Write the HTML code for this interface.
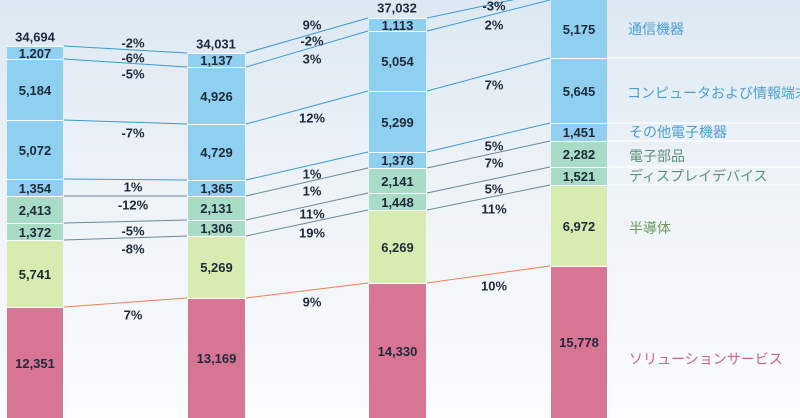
<!DOCTYPE html>
<html><head><meta charset="utf-8"><style>
body{margin:0}
#c{position:relative;width:800px;height:418px;overflow:hidden;background:linear-gradient(#dde8f2 0%,#eef3f8 45%,#fbfcfd 100%);font-family:"Liberation Sans Narrow","Liberation Sans","Noto Sans CJK JP",sans-serif}
.s{position:absolute;box-sizing:border-box;border-top:1px solid #fff;display:flex;align-items:center;justify-content:center;font-weight:bold;font-size:13px;color:#1e2a3a}
.b{background:#8fd0f0}.g{background:#a9dcc6}.y{background:#d8ebb0}.p{background:#d87594}
.t{position:absolute;font-weight:bold;font-size:13px;color:#1e2a3a;transform:translate(-50%,-50%);white-space:nowrap}
.l{position:absolute;font-size:14px;font-family:"Liberation Sans","Noto Sans CJK JP",sans-serif;transform:translateY(-50%);white-space:nowrap}
svg{position:absolute;left:0;top:0}
</style></head><body><div id="c">
<svg width="800" height="418">
<g stroke="#fff" stroke-width="1.2"><line x1="607" y1="58" x2="800" y2="58"/><line x1="607" y1="123" x2="800" y2="123"/><line x1="607" y1="141" x2="800" y2="141"/><line x1="607" y1="167" x2="800" y2="167"/><line x1="607" y1="185" x2="800" y2="185"/></g>
<g stroke="#3b9bd0" stroke-width="1">
<line x1="64" y1="46" x2="187" y2="53"/><line x1="64" y1="59" x2="187" y2="67"/><line x1="64" y1="120" x2="187" y2="124"/><line x1="64" y1="179" x2="187" y2="180"/>
<line x1="246" y1="53" x2="368" y2="18"/><line x1="246" y1="67" x2="368" y2="31"/><line x1="246" y1="124" x2="368" y2="91"/><line x1="246" y1="180" x2="368" y2="152"/>
<line x1="427" y1="18" x2="550" y2="-8"/><line x1="427" y1="31" x2="550" y2="0"/><line x1="427" y1="91" x2="550" y2="58"/><line x1="427" y1="152" x2="550" y2="123"/>
</g>
<g stroke="#6a8a98" stroke-width="1">
<line x1="64" y1="196" x2="187" y2="196"/><line x1="64" y1="223" x2="187" y2="220"/><line x1="64" y1="240" x2="187" y2="236"/>
<line x1="246" y1="196" x2="368" y2="168"/><line x1="246" y1="220" x2="368" y2="193"/><line x1="246" y1="236" x2="368" y2="210"/>
<line x1="427" y1="168" x2="550" y2="141"/><line x1="427" y1="193" x2="550" y2="167"/><line x1="427" y1="210" x2="550" y2="185"/>
</g>
<g stroke="#f08050" stroke-width="1"><line x1="64" y1="307" x2="187" y2="298"/><line x1="246" y1="298" x2="368" y2="283"/><line x1="427" y1="283" x2="550" y2="266"/></g>
</svg>
<div class="s b" style="left:7px;width:56px;top:46px;height:13px">1,207</div>
<div class="s b" style="left:7px;width:56px;top:59px;height:61px">5,184</div>
<div class="s b" style="left:7px;width:56px;top:120px;height:59px">5,072</div>
<div class="s b" style="left:7px;width:56px;top:179px;height:17px">1,354</div>
<div class="s g" style="left:7px;width:56px;top:196px;height:27px">2,413</div>
<div class="s g" style="left:7px;width:56px;top:223px;height:17px">1,372</div>
<div class="s y" style="left:7px;width:56px;top:240px;height:67px">5,741</div>
<div class="s p" style="left:7px;width:56px;top:307px;height:111px">12,351</div>
<div class="s b" style="left:188px;width:57px;top:53px;height:14px">1,137</div>
<div class="s b" style="left:188px;width:57px;top:67px;height:57px">4,926</div>
<div class="s b" style="left:188px;width:57px;top:124px;height:56px">4,729</div>
<div class="s b" style="left:188px;width:57px;top:180px;height:16px">1,365</div>
<div class="s g" style="left:188px;width:57px;top:196px;height:24px">2,131</div>
<div class="s g" style="left:188px;width:57px;top:220px;height:16px">1,306</div>
<div class="s y" style="left:188px;width:57px;top:236px;height:62px">5,269</div>
<div class="s p" style="left:188px;width:57px;top:298px;height:120px">13,169</div>
<div class="s b" style="left:369px;width:57px;top:18px;height:13px">1,113</div>
<div class="s b" style="left:369px;width:57px;top:31px;height:60px">5,054</div>
<div class="s b" style="left:369px;width:57px;top:91px;height:61px">5,299</div>
<div class="s b" style="left:369px;width:57px;top:152px;height:16px">1,378</div>
<div class="s g" style="left:369px;width:57px;top:168px;height:25px">2,141</div>
<div class="s g" style="left:369px;width:57px;top:193px;height:17px">1,448</div>
<div class="s y" style="left:369px;width:57px;top:210px;height:73px">6,269</div>
<div class="s p" style="left:369px;width:57px;top:283px;height:135px">14,330</div>
<div class="s b" style="left:551px;width:56px;top:-1px;height:59px">5,175</div>
<div class="s b" style="left:551px;width:56px;top:58px;height:65px">5,645</div>
<div class="s b" style="left:551px;width:56px;top:123px;height:18px">1,451</div>
<div class="s g" style="left:551px;width:56px;top:141px;height:26px">2,282</div>
<div class="s g" style="left:551px;width:56px;top:167px;height:18px">1,521</div>
<div class="s y" style="left:551px;width:56px;top:185px;height:81px">6,972</div>
<div class="s p" style="left:551px;width:56px;top:266px;height:152px">15,778</div>
<div class="t" style="left:35px;top:37px">34,694</div>
<div class="t" style="left:216px;top:44px">34,031</div>
<div class="t" style="left:397px;top:8px">37,032</div>
<div class="t" style="left:133px;top:43px">-2%</div><div class="t" style="left:133px;top:58px">-6%</div><div class="t" style="left:133px;top:74px">-5%</div><div class="t" style="left:133px;top:133px">-7%</div><div class="t" style="left:133px;top:187px">1%</div><div class="t" style="left:133px;top:205px">-12%</div><div class="t" style="left:133px;top:231px">-5%</div><div class="t" style="left:133px;top:249px">-8%</div><div class="t" style="left:133px;top:315px">7%</div>
<div class="t" style="left:312px;top:25px">9%</div><div class="t" style="left:312px;top:41px">-2%</div><div class="t" style="left:312px;top:59px">3%</div><div class="t" style="left:312px;top:118px">12%</div><div class="t" style="left:312px;top:174px">1%</div><div class="t" style="left:312px;top:191px">1%</div><div class="t" style="left:312px;top:214px">11%</div><div class="t" style="left:312px;top:233px">19%</div><div class="t" style="left:312px;top:302px">9%</div>
<div class="t" style="left:494px;top:6px">-3%</div><div class="t" style="left:494px;top:25px">2%</div><div class="t" style="left:494px;top:85px">7%</div><div class="t" style="left:494px;top:146px">5%</div><div class="t" style="left:494px;top:163px">7%</div><div class="t" style="left:494px;top:189px">5%</div><div class="t" style="left:494px;top:209px">11%</div><div class="t" style="left:494px;top:286px">10%</div>
<div class="l" style="left:628px;top:29px;color:#4c9fd2">通信機器</div>
<div class="l" style="left:627px;top:93px;color:#4c9fd2">コンピュータおよび情報端末</div>
<div class="l" style="left:629px;top:132px;color:#4c9fd2">その他電子機器</div>
<div class="l" style="left:629px;top:156px;color:#5f8f7c">電子部品</div>
<div class="l" style="left:629px;top:176px;color:#5f8f7c">ディスプレイデバイス</div>
<div class="l" style="left:629px;top:228px;color:#6b9a5a">半導体</div>
<div class="l" style="left:629px;top:359px;color:#d0608a">ソリューションサービス</div>
</div></body></html>
